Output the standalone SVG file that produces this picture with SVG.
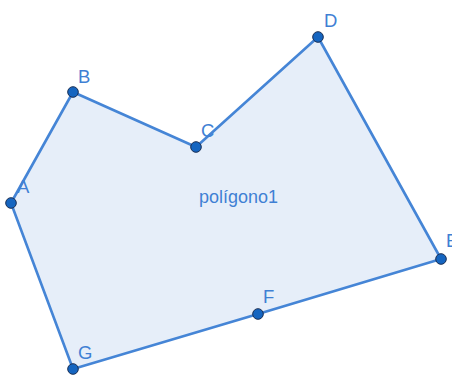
<svg xmlns="http://www.w3.org/2000/svg" width="452" height="375" viewBox="0 0 452 375">
<style>
.edge{fill:none;stroke:#4585d6;stroke-width:2.6;stroke-linejoin:round}
.pt{fill:#1565c0;stroke:#1a2f55;stroke-width:1}
.lbl{font-family:"Liberation Sans",Arial,sans-serif;font-size:18.5px;fill:#3f80d4}
.name{font-family:"Liberation Sans",Arial,sans-serif;font-size:18px;fill:#3f80d4;text-anchor:middle}
</style>
<rect width="452" height="375" fill="#ffffff"/>
<g id="polygon">
<polygon points="11,203 73,92 196,147 318,37 441,259 73,369" fill="#e6eef9" stroke="none"/>
<text class="name" x="238.5" y="203">polígono1</text>
</g>
<g id="connectors">
<polyline class="edge" points="11,203 73,92 196,147 318,37 441,259 258,314 73,369 11,203"/>
</g>
<g id="A"><circle class="pt" cx="11" cy="203" r="5.3"/><text class="lbl" x="17" y="193">A</text></g>
<g id="B"><circle class="pt" cx="73" cy="92" r="5.3"/><text class="lbl" x="78" y="83">B</text></g>
<g id="C"><circle class="pt" cx="196" cy="147" r="5.3"/><text class="lbl" x="201" y="137">C</text></g>
<g id="D"><circle class="pt" cx="318" cy="37" r="5.3"/><text class="lbl" x="324" y="27">D</text></g>
<g id="E"><circle class="pt" cx="441" cy="259" r="5.3"/><text class="lbl" x="446" y="247">E</text></g>
<g id="F"><circle class="pt" cx="258" cy="314" r="5.3"/><text class="lbl" x="263" y="303">F</text></g>
<g id="G"><circle class="pt" cx="73" cy="369" r="5.3"/><text class="lbl" x="78" y="359">G</text></g>
</svg>
